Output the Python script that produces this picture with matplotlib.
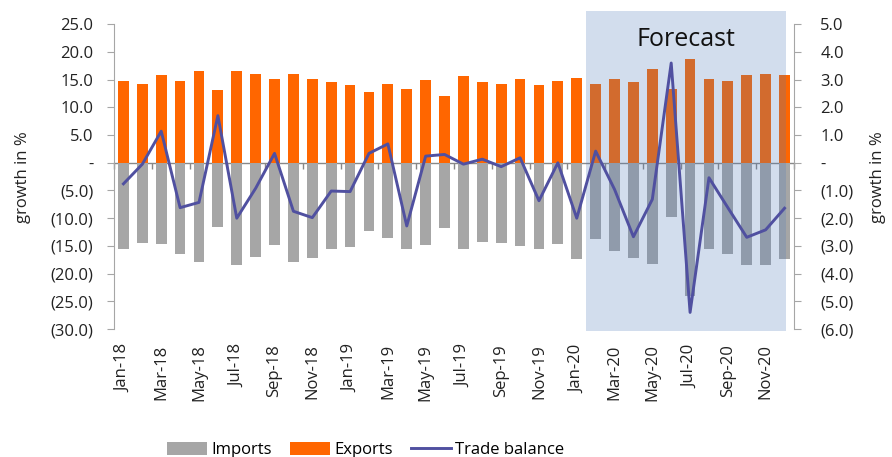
import matplotlib.pyplot as plt
from matplotlib.ticker import FuncFormatter, FixedLocator
from matplotlib.patches import Rectangle

plt.rcParams['font.family'] = ['Open Sans', 'DejaVu Sans']

# Data
months = ['Jan-18', 'Feb-18', 'Mar-18', 'Apr-18', 'May-18', 'Jun-18', 'Jul-18', 'Aug-18', 'Sep-18',
          'Oct-18', 'Nov-18', 'Dec-18', 'Jan-19', 'Feb-19', 'Mar-19', 'Apr-19', 'May-19', 'Jun-19',
          'Jul-19', 'Aug-19', 'Sep-19', 'Oct-19', 'Nov-19', 'Dec-19', 'Jan-20', 'Feb-20', 'Mar-20',
          'Apr-20', 'May-20', 'Jun-20', 'Jul-20', 'Aug-20', 'Sep-20', 'Oct-20', 'Nov-20', 'Dec-20']
exports = [14.8, 14.3, 15.8, 14.8, 16.5, 13.2, 16.5, 16.1, 15.1, 16.1, 15.1, 14.6,
           14.1, 12.8, 14.3, 13.4, 15.0, 12.1, 15.6, 14.6, 14.3, 15.1, 14.1, 14.7,
           15.3, 14.3, 15.1, 14.6, 17.0, 13.3, 18.7, 15.1, 14.7, 15.8, 16.1, 15.8]
imports = [-15.5, -14.4, -14.6, -16.4, -17.9, -11.5, -18.5, -17.0, -14.8, -17.9, -17.1, -15.5,
           -15.2, -12.4, -13.6, -15.6, -14.8, -11.7, -15.6, -14.3, -14.4, -15.0, -15.5, -14.7,
           -17.3, -13.8, -16.0, -17.2, -18.2, -9.7, -24.0, -15.6, -16.4, -18.5, -18.5, -17.3]
trade_balance = [-0.76, -0.05, 1.14, -1.62, -1.43, 1.70, -2.00, -0.92, 0.34, -1.75, -1.98, -1.02,
                 -1.04, 0.34, 0.68, -2.28, 0.24, 0.30, -0.05, 0.13, -0.14, 0.18, -1.37, 0.00,
                 -2.00, 0.42, -0.96, -2.67, -1.32, 3.60, -5.40, -0.54, -1.62, -2.69, -2.42, -1.64]
forecast_start = 24.5
forecast_end = 35.1

x = list(range(len(months)))


def fmt(v, pos):
    if abs(v) < 1e-9:
        return '-'
    if v < 0:
        return '({:.1f})'.format(-v)
    return '{:.1f}'.format(v)


fig = plt.figure(figsize=(8.92, 4.57), dpi=100)
ax = fig.add_axes([0.1278, 0.280, 0.7623, 0.667])
ax2 = ax.twinx()

grey = '#A6A6A6'
ax.bar(x, imports, width=0.57, color='#A6A6A6', label='Imports', zorder=2)
ax.bar(x, exports, width=0.57, color='#FF6600', label='Exports', zorder=2)

# forecast shading
rect = Rectangle((forecast_start, -30.3), forecast_end - forecast_start, 57.7,
                 facecolor='#4F7BBB', alpha=0.25, edgecolor='none', zorder=3, clip_on=False)
ax.add_patch(rect)

ax.set_xlim(-0.5, len(months) - 0.5)
ax.set_ylim(-30, 25)
ax.yaxis.set_major_locator(FixedLocator([25, 20, 15, 10, 5, 0, -5, -10, -15, -20, -25, -30]))
ax.yaxis.set_major_formatter(FuncFormatter(fmt))

ax2.plot(x, trade_balance, color='#5050A0', lw=2.1, label='Trade balance', zorder=5)
ax2.set_ylim(-6, 5)
ax2.yaxis.set_major_locator(FixedLocator(range(-6, 6)))
ax2.yaxis.set_major_formatter(FuncFormatter(fmt))

# x labels at the bottom
ax.set_xticks(x[::2])
ax.set_xticklabels(months[::2], rotation=90, fontsize=12, color='#222222')
ax.tick_params(axis='x', length=0, pad=11)

# zero axis line with ticks at category boundaries
sec = ax.secondary_xaxis(30 / 55)
sec.set_alignment('bottom')
sec.set_xticks([i - 0.5 for i in range(0, len(months) + 1, 2)])
sec.set_xticklabels([])
sec.tick_params(axis='x', direction='out', length=4, color='#888888', width=1)
for s in sec.spines.values():
    s.set_color('#888888')
    s.set_linewidth(1)

for a in (ax, ax2):
    a.spines['top'].set_visible(False)
    a.spines['bottom'].set_visible(False)
    a.spines['left'].set_color(grey)
    a.spines['right'].set_color(grey)
    a.tick_params(axis='y', labelsize=12, colors=grey, labelcolor='#222222', length=5)
ax.spines['right'].set_visible(False)
ax2.spines['left'].set_visible(False)
ax.tick_params(axis='y', pad=10)
ax2.tick_params(axis='y', pad=14)

ax.set_ylabel('growth in %', fontsize=12, color='#222222', labelpad=14)
ax2.set_ylabel('growth in %', fontsize=12, color='#222222', rotation=90, labelpad=12)

ax2.text((forecast_start + forecast_end) / 2, 4.45, 'Forecast', ha='center', va='center',
         fontsize=18, color='#111111', zorder=6)

h1, l1 = ax.get_legend_handles_labels()
h2, l2 = ax2.get_legend_handles_labels()
fig.legend(h1 + h2, l1 + l2, loc='lower center', bbox_to_anchor=(0.41, -0.035), ncol=3,
           frameon=False, fontsize=12, handlelength=2.4, handleheight=0.8, columnspacing=1.1,
           handletextpad=0.25)

fig.savefig('out.png', dpi=100)
